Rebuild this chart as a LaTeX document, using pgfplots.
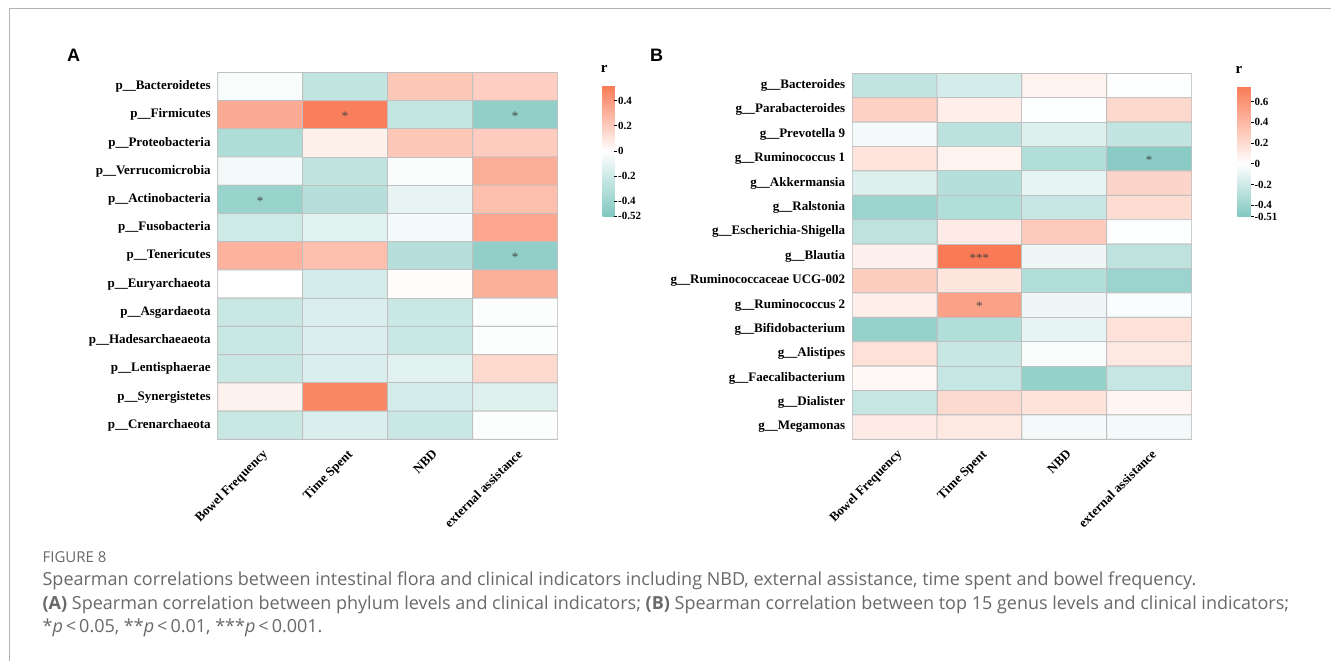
\documentclass[border=0pt]{standalone}
\usepackage{fontspec}
\setmainfont{Liberation Serif}
\newfontfamily\sansb{Liberation Sans}
\newfontfamily\capfont{Open Sans}
\usepackage{pgfplots}
\usepackage{pgfplotstable}
\pgfplotsset{compat=1.18}
\definecolor{gridc}{RGB}{192,192,192}
\definecolor{capc}{RGB}{105,105,105}
\definecolor{starc}{RGB}{70,70,70}
\newcommand\lab{\bfseries\fontsize{13}{13}\selectfont}
\newcommand\cbl{\bfseries\fontsize{11}{11}\selectfont}

% Panel A: phylum x indicator (x: 0 BF, 1 TS, 2 NBD, 3 EA; y: row index)
\pgfplotstableread{
x y c
0 0 -0.03
1 0 -0.25
2 0 0.22
3 0 0.19
0 1 0.33
1 1 0.50
2 1 -0.24
3 1 -0.45
0 2 -0.33
1 2 0.06
2 2 0.22
3 2 0.20
0 3 -0.05
1 3 -0.26
2 3 -0.03
3 3 0.32
0 4 -0.42
1 4 -0.30
2 4 -0.10
3 4 0.25
0 5 -0.20
1 5 -0.12
2 5 -0.04
3 5 0.35
0 6 0.30
1 6 0.25
2 6 -0.30
3 6 -0.45
0 7 0.00
1 7 -0.18
2 7 0.01
3 7 0.31
0 8 -0.22
1 8 -0.15
2 8 -0.22
3 8 -0.01
0 9 -0.22
1 9 -0.15
2 9 -0.22
3 9 -0.01
0 10 -0.22
1 10 -0.15
2 10 -0.12
3 10 0.15
0 11 0.05
1 11 0.47
2 11 -0.18
3 11 -0.13
0 12 -0.22
1 12 -0.15
2 12 -0.22
3 12 -0.01
}\dataA

\pgfplotstableread{
x y s
1 1 *
3 1 *
0 4 *
3 6 *
}\sigA

% Panel B: genus x indicator
\pgfplotstableread{
x y c
0 0 -0.25
1 0 -0.17
2 0 0.07
3 0 -0.01
0 1 0.26
1 1 0.09
2 1 -0.01
3 1 0.22
0 2 -0.05
1 2 -0.27
2 2 -0.14
3 2 -0.24
0 3 0.15
1 3 0.07
2 3 -0.31
3 3 -0.47
0 4 -0.14
1 4 -0.30
2 4 -0.10
3 4 0.24
0 5 -0.40
1 5 -0.31
2 5 -0.22
3 5 0.20
0 6 -0.26
1 6 0.11
2 6 0.30
3 6 -0.01
0 7 0.08
1 7 0.75
2 7 -0.07
3 7 -0.26
0 8 0.28
1 8 0.14
2 8 -0.31
3 8 -0.40
0 9 0.09
1 9 0.53
2 9 -0.07
3 9 -0.02
0 10 -0.42
1 10 -0.31
2 10 -0.10
3 10 0.17
0 11 0.17
1 11 -0.22
2 11 -0.03
3 11 0.13
0 12 0.04
1 12 -0.23
2 12 -0.43
3 12 -0.23
0 13 -0.23
1 13 0.21
2 13 0.16
3 13 0.05
0 14 0.11
1 14 0.13
2 14 -0.04
3 14 -0.05
}\dataB

\pgfplotstableread{
x y s
3 3 *
1 7 ***
1 9 *
}\sigB

\pgfplotsset{
  heat/.style={
    scale only axis, enlargelimits=false,
    y dir=reverse,
    axis line style={draw=gridc, line width=0.9pt},
    tick style={draw=none},
    xmin=-0.5, xmax=3.5,
    xtick={0,1,2,3},
    xticklabels={Bowel Frequency,Time Spent,NBD,external assistance},
    xticklabel style={font=\lab, inner sep=0pt, xshift=1.6pt, yshift=-9pt, rotate=45, anchor=north east},
    yticklabel style={font=\lab, inner sep=0pt, xshift=-6.8pt, anchor=east},
    colorbar,
    colorbar shift/.style={},
  },
  cbar/.style={
    scale only axis,
    at={(parent axis.north east)}, anchor=north west,
    axis line style={draw=none},
    ytick pos=right, yticklabel pos=right,
    tick align=outside, major tick length=3pt,
    tick style={draw=black, line width=0.6pt},
    yticklabel style={font=\cbl, inner sep=0pt, xshift=0.6pt, anchor=west},
    title={\bfseries\fontsize{15}{15}\selectfont r},
    title style={at={(0,1)}, anchor=base west, inner sep=0pt, xshift=-2pt, yshift=6.7pt},
  },
  sig/.style={draw=none, mark=none, nodes near coords, point meta=explicit symbolic,
    nodes near coords style={anchor=center, inner sep=0pt, font=\fontsize{13}{13}\selectfont, text=starc, yshift=-1.5pt}},
}

\begin{document}
\begin{tikzpicture}
\useasboundingbox (0,0) rectangle (1331pt,-661pt);
\fill[white] (0,0) rectangle (1331pt,-661pt);
\draw[color=black!30, line width=1.5pt] (9.5pt,-661pt) -- (9.5pt,-8.5pt) -- (1331pt,-8.5pt);

\node[anchor=base west, inner sep=0pt] at (67pt,-61.7pt) {\sansb\bfseries\fontsize{18}{18}\selectfont A};
\node[anchor=base west, inner sep=0pt] at (650pt,-61.7pt) {\sansb\bfseries\fontsize{18}{18}\selectfont B};

\begin{axis}[heat,
  at={(217.6pt,-439.3pt)}, anchor=south west,
  width=340.1pt, height=367pt,
  ymin=-0.5, ymax=12.5,
  ytick={0,...,12},
  yticklabels={p\_\_Bacteroidetes,p\_\_Firmicutes,p\_\_Proteobacteria,p\_\_Verrucomicrobia,p\_\_Actinobacteria,p\_\_Fusobacteria,p\_\_Tenericutes,p\_\_Euryarchaeota,p\_\_Asgardaeota,p\_\_Hadesarchaeaeota,p\_\_Lentisphaerae,p\_\_Synergistetes,p\_\_Crenarchaeota},
  colormap={mapA}{rgb255(0pt)=(128,200,192); rgb255(52pt)=(255,255,255); rgb255(104pt)=(249,122,85)},
  point meta min=-0.52, point meta max=0.52,
  colorbar style={cbar, width=11.6pt, height=130.3pt, xshift=45pt, yshift=-13.4pt,
    ytick={-0.52,-0.4,-0.2,0,0.2,0.4},
    yticklabels={-0.52,-0.4,-0.2,0,0.2,0.4}},
]
\addplot[matrix plot*, mesh/cols=4, point meta=explicit, draw=gridc, line width=0.9pt] table[meta=c] {\dataA};
\addplot[sig] table[meta=s] {\sigA};
\end{axis}

\begin{axis}[heat,
  at={(852.1pt,-439.3pt)}, anchor=south west,
  width=339.4pt, height=366pt,
  ymin=-0.5, ymax=14.5,
  ytick={0,...,14},
  yticklabels={g\_\_Bacteroides,g\_\_Parabacteroides,g\_\_Prevotella 9,g\_\_Ruminococcus 1,g\_\_Akkermansia,g\_\_Ralstonia,g\_\_Escherichia-Shigella,g\_\_Blautia,g\_\_Ruminococcaceae UCG-002,g\_\_Ruminococcus 2,g\_\_Bifidobacterium,g\_\_Alistipes,g\_\_Faecalibacterium,g\_\_Dialister,g\_\_Megamonas},
  colormap={mapB}{rgb255(0pt)=(128,200,192); rgb255(51pt)=(255,255,255); rgb255(126pt)=(249,122,85)},
  point meta min=-0.51, point meta max=0.75,
  colorbar style={cbar, width=13.4pt, height=130.7pt, xshift=45.8pt, yshift=-12.7pt,
    ytick={-0.51,-0.4,-0.2,0,0.2,0.4,0.6},
    yticklabels={-0.51,-0.4,-0.2,0,0.2,0.4,0.6}},
]
\addplot[matrix plot*, mesh/cols=4, point meta=explicit, draw=gridc, line width=0.9pt] table[meta=c] {\dataB};
\addplot[sig] table[meta=s] {\sigB};
\end{axis}

\begin{scope}[every node/.style={anchor=west, inner sep=0pt, text=capc}]
\node at (42.4pt,-557pt) {\capfont\fontsize{15}{15}\selectfont FIGURE 8};
\node at (42.4pt,-581pt) {\capfont\fontsize{18}{18}\selectfont Spearman correlations between intestinal flora and clinical indicators including NBD, external assistance, time spent and bowel frequency.};
\node at (42.4pt,-605pt) {\capfont\fontsize{18}{18}\selectfont \textbf{(A)} Spearman correlation between phylum levels and clinical indicators; \textbf{(B)} Spearman correlation between top 15 genus levels and clinical indicators;};
\node at (42.4pt,-628pt) {\capfont\fontsize{18}{18}\selectfont *\textit{p}\,<\,0.05, **\textit{p}\,<\,0.01, ***\textit{p}\,<\,0.001.};
\end{scope}
\end{tikzpicture}
\end{document}
